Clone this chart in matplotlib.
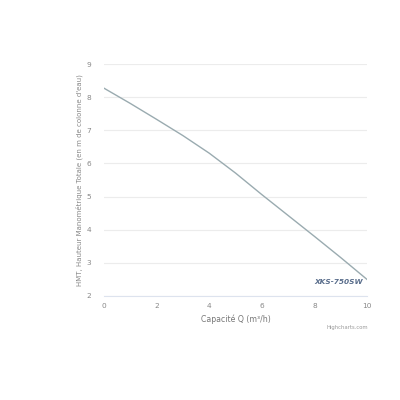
import matplotlib
matplotlib.use("Agg")
import matplotlib.pyplot as plt

# debit (m3/h) vs HMT (m)
debit = [0, 1, 2, 3, 4, 5, 6, 7, 8, 9, 10]
hmt = [8.27, 7.81, 7.33, 6.84, 6.31, 5.71, 5.06, 4.43, 3.8, 3.16, 2.5]
serie = 'XKS-750SW'
xticks = [0, 2, 4, 6, 8, 10]
yticks = [2, 3, 4, 5, 6, 7, 8, 9]

plt.rcParams['font.family'] = ['DejaVu Sans']

fig = plt.figure(figsize=(4, 4), dpi=100)
ax = fig.add_axes([0.26, 0.26, 0.6575, 0.58])

ax.plot(debit, hmt, color='#9aabb0', lw=1.0)

ax.set_xlim(0, 10)
ax.set_ylim(2, 9)
ax.set_xticks(xticks)
ax.set_yticks(yticks)
ax.grid(axis='y', color='#ececec', lw=0.8)
ax.set_axisbelow(True)
for s in ['top', 'right', 'left']:
    ax.spines[s].set_visible(False)
ax.spines['bottom'].set_color('#dde3ee')
ax.tick_params(axis='both', length=0, labelsize=5.3, labelcolor='#888888')
ax.tick_params(axis='x', pad=5)
ax.tick_params(axis='y', pad=9)

ax.set_xlabel('Capacité Q (m³/h)', fontsize=5.6, color='#777777', labelpad=4)
ax.set_ylabel("HMT, Hauteur Manométrique Totale (en m de colonne d'eau)",
              fontsize=5.0, color='#888888', labelpad=3)

ax.text(0.985, 0.06, serie, transform=ax.transAxes, ha='right', va='center',
        fontsize=5.3, fontweight='bold', style='italic', color='#5a6e8c')
fig.text(0.92, 0.182, 'Highcharts.com', ha='right', va='center',
         fontsize=3.8, color='#999999')

fig.savefig('out.png', dpi=100, facecolor='white')
